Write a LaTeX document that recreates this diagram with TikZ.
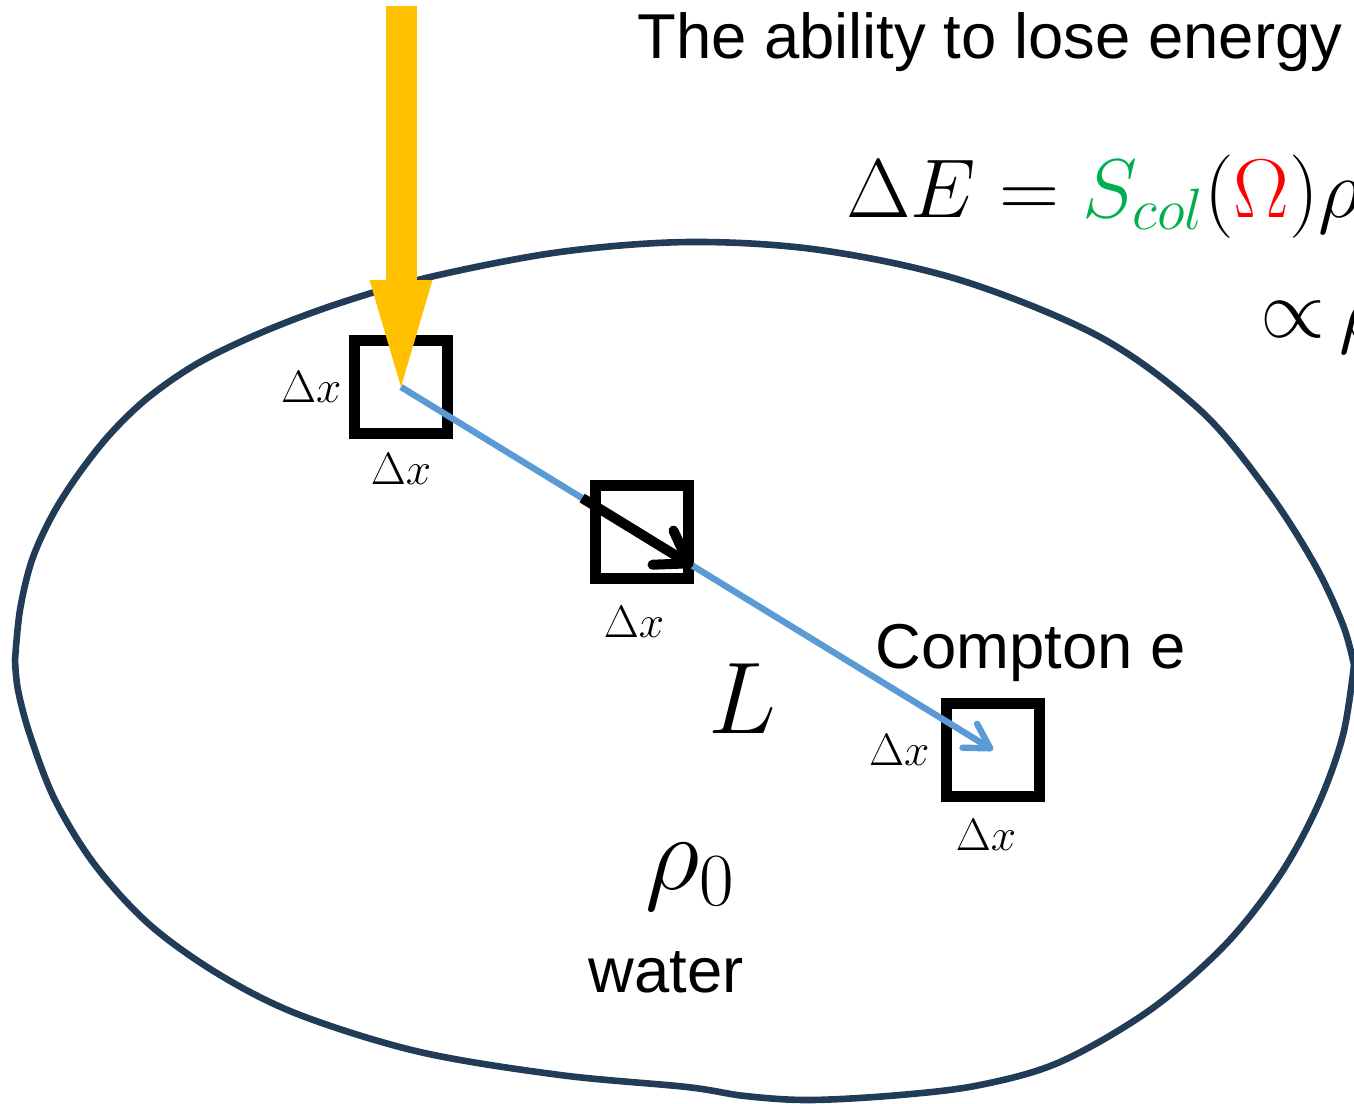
\RequirePackage{fix-cm}
\documentclass[tikz,border=0pt]{standalone}
\usepackage{fontspec}
\setmainfont{Liberation Sans}
\usepackage{xcolor}
\usetikzlibrary{positioning, arrows.meta, calc}
\definecolor{outline}{RGB}{34,60,88}
\definecolor{beamyellow}{RGB}{255,192,0}
\definecolor{trackblue}{RGB}{91,155,213}
\definecolor{colgreen}{RGB}{0,176,80}

\begin{document}
\begin{tikzpicture}[x=0.5pt, y=-0.5pt,
			voxel/.style={draw=black, line width=5.75pt, minimum size=46.5pt, inner sep=0pt},
			dx/.style={inner sep=0pt, font=\fontsize{22.7}{27}\selectfont},
			words/.style={inner sep=0pt, anchor=base west, font=\fontsize{31.7}{38}\selectfont},
			beam/.style={-{Triangle[length=53.5pt, width=31.5pt, line width=0pt]}, line width=15.5pt, color=beamyellow},
			track/.style={-{Straight Barb[length=12pt, width=14pt, round]}, line width=3.2pt, color=trackblue},
			kick/.style={-{Straight Barb[length=15pt, width=20pt, round]}, line width=5pt, color=black},
			]
			\useasboundingbox (0,0) rectangle (1354,1103);
			\clip (0,0) rectangle (1354,1103);
			\draw[outline, line width=3.3pt] plot[smooth, tension=0.55] coordinates {(15,660) (20,610) (32,560) (53,514) (80,472) (112,432) (150,396) (200,362) (265,331) (340,303) (430,277) (560,252) (690,242) (820,250) (960,280) (1100,337) (1200,410) (1267,490) (1315,565) (1343,625) (1354,665)}
			-- plot[smooth, tension=0.55] coordinates {(1354,665) (1343,735) (1318,805) (1280,875) (1225,945) (1150,1010) (1060,1062) (980,1085) (900,1095) (810,1100) (745,1096) (687,1087) (560,1075) (420,1052) (300,1015) (220,975) (150,925) (95,865) (55,800) (30,735) (18,690) (15,660)} -- cycle;
			\node[voxel] (entrybox) at (401,387) {};
			\node[voxel] (midbox) at (642,532) {};
			\node[voxel] (endbox) at (993,750) {};
			\node[dx, left=3.5pt of entrybox] (entrydxl) {$\Delta x$};
			\node[dx, below=7pt of entrybox] (entrydxb) {$\Delta x$};
			\node[dx, below=11pt of midbox, xshift=-4pt] (middxb) {$\Delta x$};
			\node[dx, left=5.5pt of endbox] (enddxl) {$\Delta x$};
			\node[dx, below=8.5pt of endbox, xshift=-3.5pt] (enddxb) {$\Delta x$};
			\coordinate (source) at (401,6);
			\coordinate (kickstart) at ($(entrybox.center)!0.306!(endbox.center)$);
			\coordinate (kickend) at ($(entrybox.center)!0.493!(endbox.center)$);
			\draw[track] (entrybox.center) -- (endbox.center);
			\draw[beam] (source) -- (entrybox.center);
			\draw[kick] (kickstart) -- (kickend);
			\node[words] (title) at (637,58) {The ability to lose energy};
			\node[inner sep=0pt, anchor=base west, font=\fontsize{41.7}{50}\selectfont] (formula) at (846,217) {$\Delta E = \textcolor{colgreen}{S_{col}}(\textcolor{red}{\Omega})\rho$};
			\node[inner sep=0pt, anchor=base west, font=\fontsize{41.7}{50}\selectfont] (propto) at (1260,337) {${\propto}\,\rho$};
			\node[words] (compton) at (875,668) {Compton e};
			\node[inner sep=0pt, anchor=base, font=\fontsize{51}{60}\selectfont] (len) at (742,733) {$L$};
			\node[inner sep=0pt, anchor=base west, font=\fontsize{53.6}{64}\selectfont] (rho) at (645,889) {$\rho_0$};
			\node[words] (water) at (588,992) {water};
		\end{tikzpicture}
\end{document}
